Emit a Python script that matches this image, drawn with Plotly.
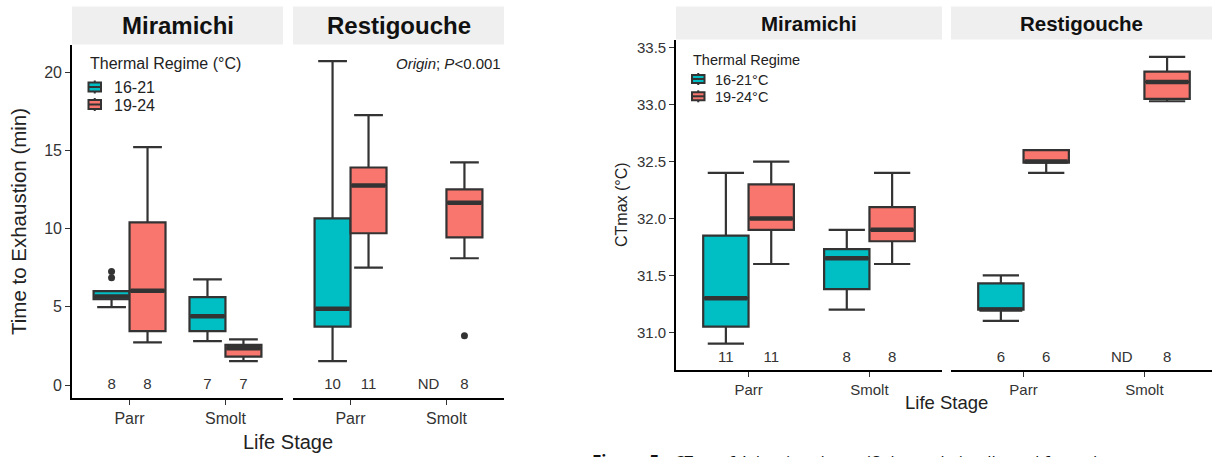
import plotly.graph_objects as go

# ---------------- data ----------------
stages = ["Parr", "Smolt"]
regimes_left = ["16-21", "19-24"]
regimes_right = ["16-21°C", "19-24°C"]

# Time to exhaustion (min): [lower whisker, Q1, median, Q3, upper whisker] per stage; None = no data
exh_mir_1621 = [[4.98, 5.48, 5.65, 6.0, 6.0], [2.8, 3.45, 4.4, 5.62, 6.75]]
exh_mir_1924 = [[2.73, 3.45, 6.03, 10.4, 15.2], [1.53, 1.81, 2.35, 2.56, 2.92]]
exh_res_1621 = [[1.53, 3.73, 4.88, 10.65, 20.7], None]
exh_res_1924 = [[7.5, 9.7, 12.75, 13.9, 17.25], [8.1, 9.44, 11.65, 12.5, 14.23]]
exh_out_mir_1621_parr = [7.25, 6.85]
exh_out_res_1924_smolt = [3.15]
exh_n_mir_1621 = ["8", "7"]
exh_n_mir_1924 = ["8", "7"]
exh_n_res_1621 = ["10", "ND"]
exh_n_res_1924 = ["11", "8"]
exh_ticks = [0, 5, 10, 15, 20]

# CTmax (°C)
ct_mir_1621 = [[30.9, 31.05, 31.3, 31.85, 32.4], [31.2, 31.38, 31.65, 31.73, 31.9]]
ct_mir_1924 = [[31.6, 31.9, 32.0, 32.3, 32.5], [31.6, 31.8, 31.9, 32.1, 32.4]]
ct_res_1621 = [[31.1, 31.2, 31.2, 31.43, 31.5], None]
ct_res_1924 = [[32.4, 32.49, 32.5, 32.6, 32.6], [33.03, 33.05, 33.2, 33.29, 33.42]]
ct_n_mir_1621 = ["11", "8"]
ct_n_mir_1924 = ["11", "8"]
ct_n_res_1621 = ["6", "ND"]
ct_n_res_1924 = ["6", "8"]
ct_ticks = [31.0, 31.5, 32.0, 32.5, 33.0, 33.5]

# ---------------- style ----------------
W, H = 1212, 457
TEAL = "#00BFC4"
RED = "#F8766D"
LINE = "#333333"
FONT = "Liberation Sans, Arial, sans-serif"
DODGE = 0.1875
BOXW = 0.375


def px(x):
    return x / W


def py(y):
    return 1 - y / H


fig = go.Figure()


def add_boxes(stats, color, xa, ya, offset, name):
    for i, s in enumerate(stats):
        if s is None:
            continue
        pos = i + 1 + offset
        fig.add_trace(go.Box(
            x=[pos], lowerfence=[s[0]], q1=[s[1]], median=[s[2]], q3=[s[3]],
            upperfence=[s[4]], width=BOXW, whiskerwidth=0.8, fillcolor=color,
            line=dict(color=LINE, width=2.2), boxpoints=False, xaxis=xa, yaxis=ya,
            name=name, showlegend=False, hoverinfo="skip"))
        fig.add_trace(go.Scatter(
            x=[pos - BOXW / 2 + 0.01, pos + BOXW / 2 - 0.01], y=[s[2], s[2]],
            mode="lines", line=dict(color=LINE, width=4.5), xaxis=xa, yaxis=ya,
            showlegend=False, hoverinfo="skip"))


def add_counts(labels, offset, yval, xa, ya, size):
    fig.add_trace(go.Scatter(
        x=[i + 1 + offset for i in range(len(labels))], y=[yval] * len(labels),
        text=labels, mode="text", textfont=dict(size=size, color=LINE, family=FONT),
        xaxis=xa, yaxis=ya, showlegend=False, hoverinfo="skip"))


# left chart
add_boxes(exh_mir_1621, TEAL, "x", "y", -DODGE, regimes_left[0])
add_boxes(exh_mir_1924, RED, "x", "y", DODGE, regimes_left[1])
add_boxes(exh_res_1621, TEAL, "x2", "y", -DODGE, regimes_left[0])
add_boxes(exh_res_1924, RED, "x2", "y", DODGE, regimes_left[1])
fig.add_trace(go.Scatter(x=[1 - DODGE] * len(exh_out_mir_1621_parr), y=exh_out_mir_1621_parr,
                         mode="markers", marker=dict(color=LINE, size=7), xaxis="x", yaxis="y",
                         showlegend=False, hoverinfo="skip"))
fig.add_trace(go.Scatter(x=[2 + DODGE] * len(exh_out_res_1924_smolt), y=exh_out_res_1924_smolt,
                         mode="markers", marker=dict(color=LINE, size=7), xaxis="x2", yaxis="y",
                         showlegend=False, hoverinfo="skip"))
add_counts(exh_n_mir_1621, -DODGE, 0, "x", "y", 15)
add_counts(exh_n_mir_1924, DODGE, 0, "x", "y", 15)
add_counts(exh_n_res_1621, -DODGE, 0, "x2", "y", 15)
add_counts(exh_n_res_1924, DODGE, 0, "x2", "y", 15)

# right chart
add_boxes(ct_mir_1621, TEAL, "x3", "y2", -DODGE, regimes_right[0])
add_boxes(ct_mir_1924, RED, "x3", "y2", DODGE, regimes_right[1])
add_boxes(ct_res_1621, TEAL, "x4", "y2", -DODGE, regimes_right[0])
add_boxes(ct_res_1924, RED, "x4", "y2", DODGE, regimes_right[1])
add_counts(ct_n_mir_1621, -DODGE, 30.77, "x3", "y2", 15)
add_counts(ct_n_mir_1924, DODGE, 30.77, "x3", "y2", 15)
add_counts(ct_n_res_1621, -DODGE, 30.77, "x4", "y2", 15)
add_counts(ct_n_res_1924, DODGE, 30.77, "x4", "y2", 15)

xcommon = dict(tickvals=[1, 2], ticktext=stages, showline=True, linecolor="black",
               linewidth=1.6, ticks="outside", ticklen=5, tickwidth=1.4, tickcolor=LINE,
               showgrid=False, zeroline=False, fixedrange=True)
ycommon = dict(showline=True, linecolor="black", linewidth=1.6, ticks="outside",
               ticklen=5, tickwidth=1.4, tickcolor=LINE, showgrid=False, zeroline=False)

fig.update_layout(
    width=W, height=H, margin=dict(l=0, r=0, t=0, b=0),
    plot_bgcolor="white", paper_bgcolor="white", showlegend=False,
    font=dict(family=FONT, color="#222"),
    xaxis=dict(domain=[px(72), px(283)], range=[0.4, 2.6], anchor="y",
               tickfont=dict(size=16, color="#333"), **xcommon),
    xaxis2=dict(domain=[px(293), px(504)], range=[0.4, 2.6], anchor="y",
                tickfont=dict(size=16, color="#333"), **xcommon),
    yaxis=dict(domain=[py(398), py(45)], range=[-0.83, 21.73], anchor="x",
               tickvals=exh_ticks, tickfont=dict(size=16, color="#333"), **ycommon),
    xaxis3=dict(domain=[px(676), px(942)], range=[0.4, 2.6], anchor="y2",
                tickfont=dict(size=15, color="#333"), **xcommon),
    xaxis4=dict(domain=[px(951), 1], range=[0.4, 2.559], anchor="y2",
                tickfont=dict(size=15, color="#333"), **xcommon),
    yaxis2=dict(domain=[py(370), py(40)], range=[30.669, 33.568], anchor="x3",
                tickvals=ct_ticks, tickformat=".1f",
                tickfont=dict(size=15, color="#333"), **ycommon),
)

# strips
strips = [
    (72, 283, 6.5, 44.5, "Miramichi", 24),
    (293, 504, 6.5, 44.5, "Restigouche", 24),
    (676, 942, 6.5, 39.5, "Miramichi", 20.5),
    (951, 1212, 6.5, 39.5, "Restigouche", 20.5),
]
for x0, x1, y0, y1, label, fs in strips:
    fig.add_shape(type="rect", xref="paper", yref="paper", x0=px(x0), x1=px(x1),
                  y0=py(y1), y1=py(y0), fillcolor="#EFEFEF", line=dict(width=0), layer="below")
    fig.add_annotation(xref="paper", yref="paper", x=px((x0 + x1) / 2), y=py((y0 + y1) / 2),
                       text="<b>" + label + "</b>", showarrow=False, xanchor="center",
                       yanchor="middle", font=dict(size=fs, color="#111"))


# legends (drawn as keys + text)
def legend_block(title, labels, colors, x0, title_y, centers, kw, whalf, bhalf, fs, tx):
    fig.add_annotation(xref="paper", yref="paper", x=px(x0 - 1), y=py(title_y), text=title,
                       showarrow=False, xanchor="left", yanchor="middle",
                       font=dict(size=fs, color="#222"))
    for lab, col, cy in zip(labels, colors, centers):
        cx = x0 + kw / 2
        fig.add_shape(type="line", xref="paper", yref="paper", x0=px(cx), x1=px(cx),
                      y0=py(cy + whalf), y1=py(cy - whalf), line=dict(color=LINE, width=2))
        fig.add_shape(type="rect", xref="paper", yref="paper", x0=px(x0), x1=px(x0 + kw),
                      y0=py(cy + bhalf), y1=py(cy - bhalf), fillcolor=col,
                      line=dict(color=LINE, width=2))
        fig.add_shape(type="line", xref="paper", yref="paper", x0=px(x0), x1=px(x0 + kw),
                      y0=py(cy), y1=py(cy), line=dict(color=LINE, width=2))
        fig.add_annotation(xref="paper", yref="paper", x=px(tx), y=py(cy + 1), text=lab,
                           showarrow=False, xanchor="left", yanchor="middle",
                           font=dict(size=fs, color="#222"))


legend_block("Thermal Regime (°C)", regimes_left, [TEAL, RED], 88.5, 63, [87, 104.5],
             12.5, 6.5, 4.5, 16, 112)
legend_block("Thermal Regime", regimes_right, [TEAL, RED], 692, 60, [79, 96.3],
             12.5, 6, 4, 14.5, 713)

# axis titles
fig.add_annotation(xref="paper", yref="paper", x=px(18), y=py(222),
                   text="Time to Exhaustion (min)", textangle=-90, showarrow=False,
                   xanchor="center", yanchor="middle", font=dict(size=20.5, color="#222"))
fig.add_annotation(xref="paper", yref="paper", x=px(288), y=py(442),
                   text="Life Stage", showarrow=False, xanchor="center", yanchor="middle",
                   font=dict(size=20, color="#222"))
fig.add_annotation(xref="paper", yref="paper", x=px(621), y=py(205),
                   text="CTmax (°C)", textangle=-90, showarrow=False,
                   xanchor="center", yanchor="middle", font=dict(size=16, color="#222"))
fig.add_annotation(xref="paper", yref="paper", x=px(946), y=py(402),
                   text="Life Stage", showarrow=False, xanchor="center", yanchor="middle",
                   font=dict(size=18.5, color="#222"))

# statistics note
fig.add_annotation(xref="paper", yref="paper", x=px(503), y=py(63),
                   text="<i>Origin</i>; <i>P</i>&lt;0.001", showarrow=False,
                   xanchor="right", yanchor="middle", font=dict(size=15, color="#222"))

# caption (cut off at bottom of page, as in the source)
fig.add_annotation(xref="paper", yref="paper", x=px(590), y=py(448),
                   text="<b>Figure 5:</b>  <i>CT</i><sub><i>max</i></sub> of Atlantic salmon (<i>Salmo salar</i>) collected from the",
                   showarrow=False, xanchor="left", yanchor="top",
                   font=dict(size=17, color="#111", family="Open Sans, sans-serif"))

fig.write_html("out.html")
